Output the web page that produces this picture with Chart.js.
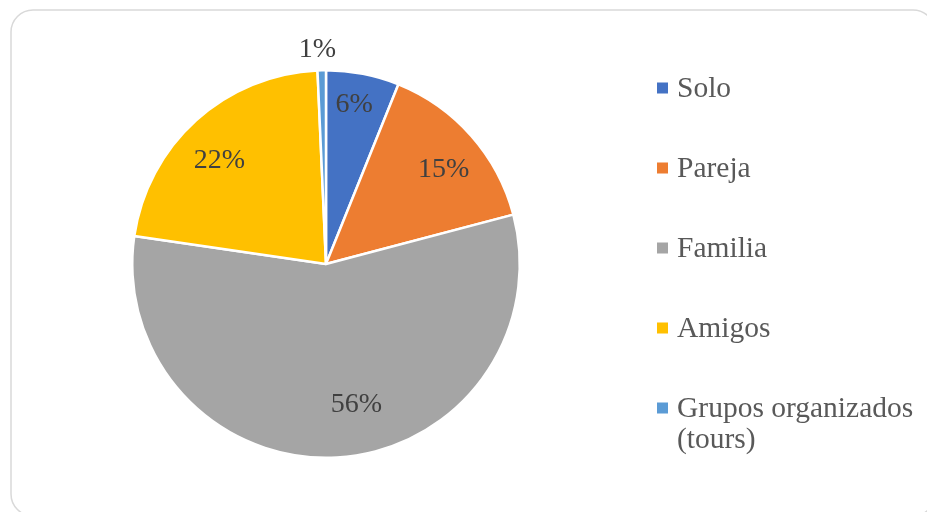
<!DOCTYPE html>
<html>
<head>
<meta charset="utf-8">
<script src="https://cdn.jsdelivr.net/npm/chart.js@4"></script>
<style>
html,body{margin:0;padding:0;background:#fff;}
#wrap{width:927px;height:512px;position:relative;}
</style>
</head>
<body>
<div id="wrap"><canvas id="c" width="927" height="512"></canvas></div>
<script>
const categories = ['Solo', 'Pareja', 'Familia', 'Amigos', 'Grupos organizados (tours)'];
const legendLines = [['Solo'], ['Pareja'], ['Familia'], ['Amigos'], ['Grupos organizados', '(tours)']];
const shares = [6.1, 14.8, 56.4, 22.0, 0.7];
const colors = ['#4472C4', '#ED7D31', '#A5A5A5', '#FFC000', '#5B9BD5'];

const FONT = "'Liberation Serif', 'Times New Roman', serif";

const framePlugin = {
  id: 'frame',
  beforeDraw(chart) {
    const ctx = chart.ctx;
    ctx.save();
    ctx.fillStyle = '#ffffff';
    ctx.fillRect(0, 0, chart.width, chart.height);
    ctx.strokeStyle = '#d9d9d9';
    ctx.lineWidth = 1.5;
    ctx.beginPath();
    ctx.roundRect(11, 10, 924, 506, 22);
    ctx.stroke();
    ctx.restore();
  }
};

const labelPlugin = {
  id: 'sliceLabels',
  afterDatasetsDraw(chart, args, opts) {
    const ctx = chart.ctx;
    const meta = chart.getDatasetMeta(0);
    ctx.save();
    ctx.font = '28px ' + FONT;
    ctx.fillStyle = '#404040';
    ctx.textAlign = 'center';
    ctx.textBaseline = 'middle';
    meta.data.forEach((arc, i) => {
      const p = arc.getProps(['x', 'y', 'startAngle', 'endAngle', 'outerRadius'], true);
      const a = (p.startAngle + p.endAngle) / 2 + (opts.angleShift[i] || 0) * Math.PI / 180;
      const r = p.outerRadius * opts.radial[i];
      const v = chart.data.datasets[0].data[i];
      ctx.fillText(Math.round(v) + '%', p.x + Math.cos(a) * r, p.y + Math.sin(a) * r + 1);
    });
    ctx.restore();
  }
};

const legendPlugin = {
  id: 'sideLegend',
  afterDraw(chart, args, opts) {
    const ctx = chart.ctx;
    ctx.save();
    ctx.font = '29.5px ' + FONT;
    ctx.textBaseline = 'middle';
    legendLines.forEach((lines, i) => {
      const y = opts.top + i * opts.step;
      ctx.fillStyle = colors[i];
      ctx.fillRect(opts.x, y - 5.5, 11, 11);
      ctx.fillStyle = '#595959';
      lines.forEach((t, j) => ctx.fillText(t, opts.x + 20, y + 1 + j * 31));
    });
    ctx.restore();
  }
};

new Chart(document.getElementById('c'), {
  type: 'pie',
  data: {
    labels: categories,
    datasets: [{
      data: shares,
      backgroundColor: colors,
      borderColor: '#ffffff',
      borderWidth: 2.5
    }]
  },
  options: {
    responsive: false,
    animation: false,
    layout: { padding: { left: 131, right: 406, top: 69, bottom: 53 } },
    plugins: {
      legend: { display: false },
      tooltip: { enabled: false },
      sliceLabels: {
        radial: [0.84, 0.78, 0.74, 0.77, 1.11],
        angleShift: [-1, 2.5, -9, -3.5, -1]
      },
      sideLegend: { x: 657, top: 88, step: 80 }
    }
  },
  plugins: [framePlugin, labelPlugin, legendPlugin]
});
</script>
</body>
</html>
